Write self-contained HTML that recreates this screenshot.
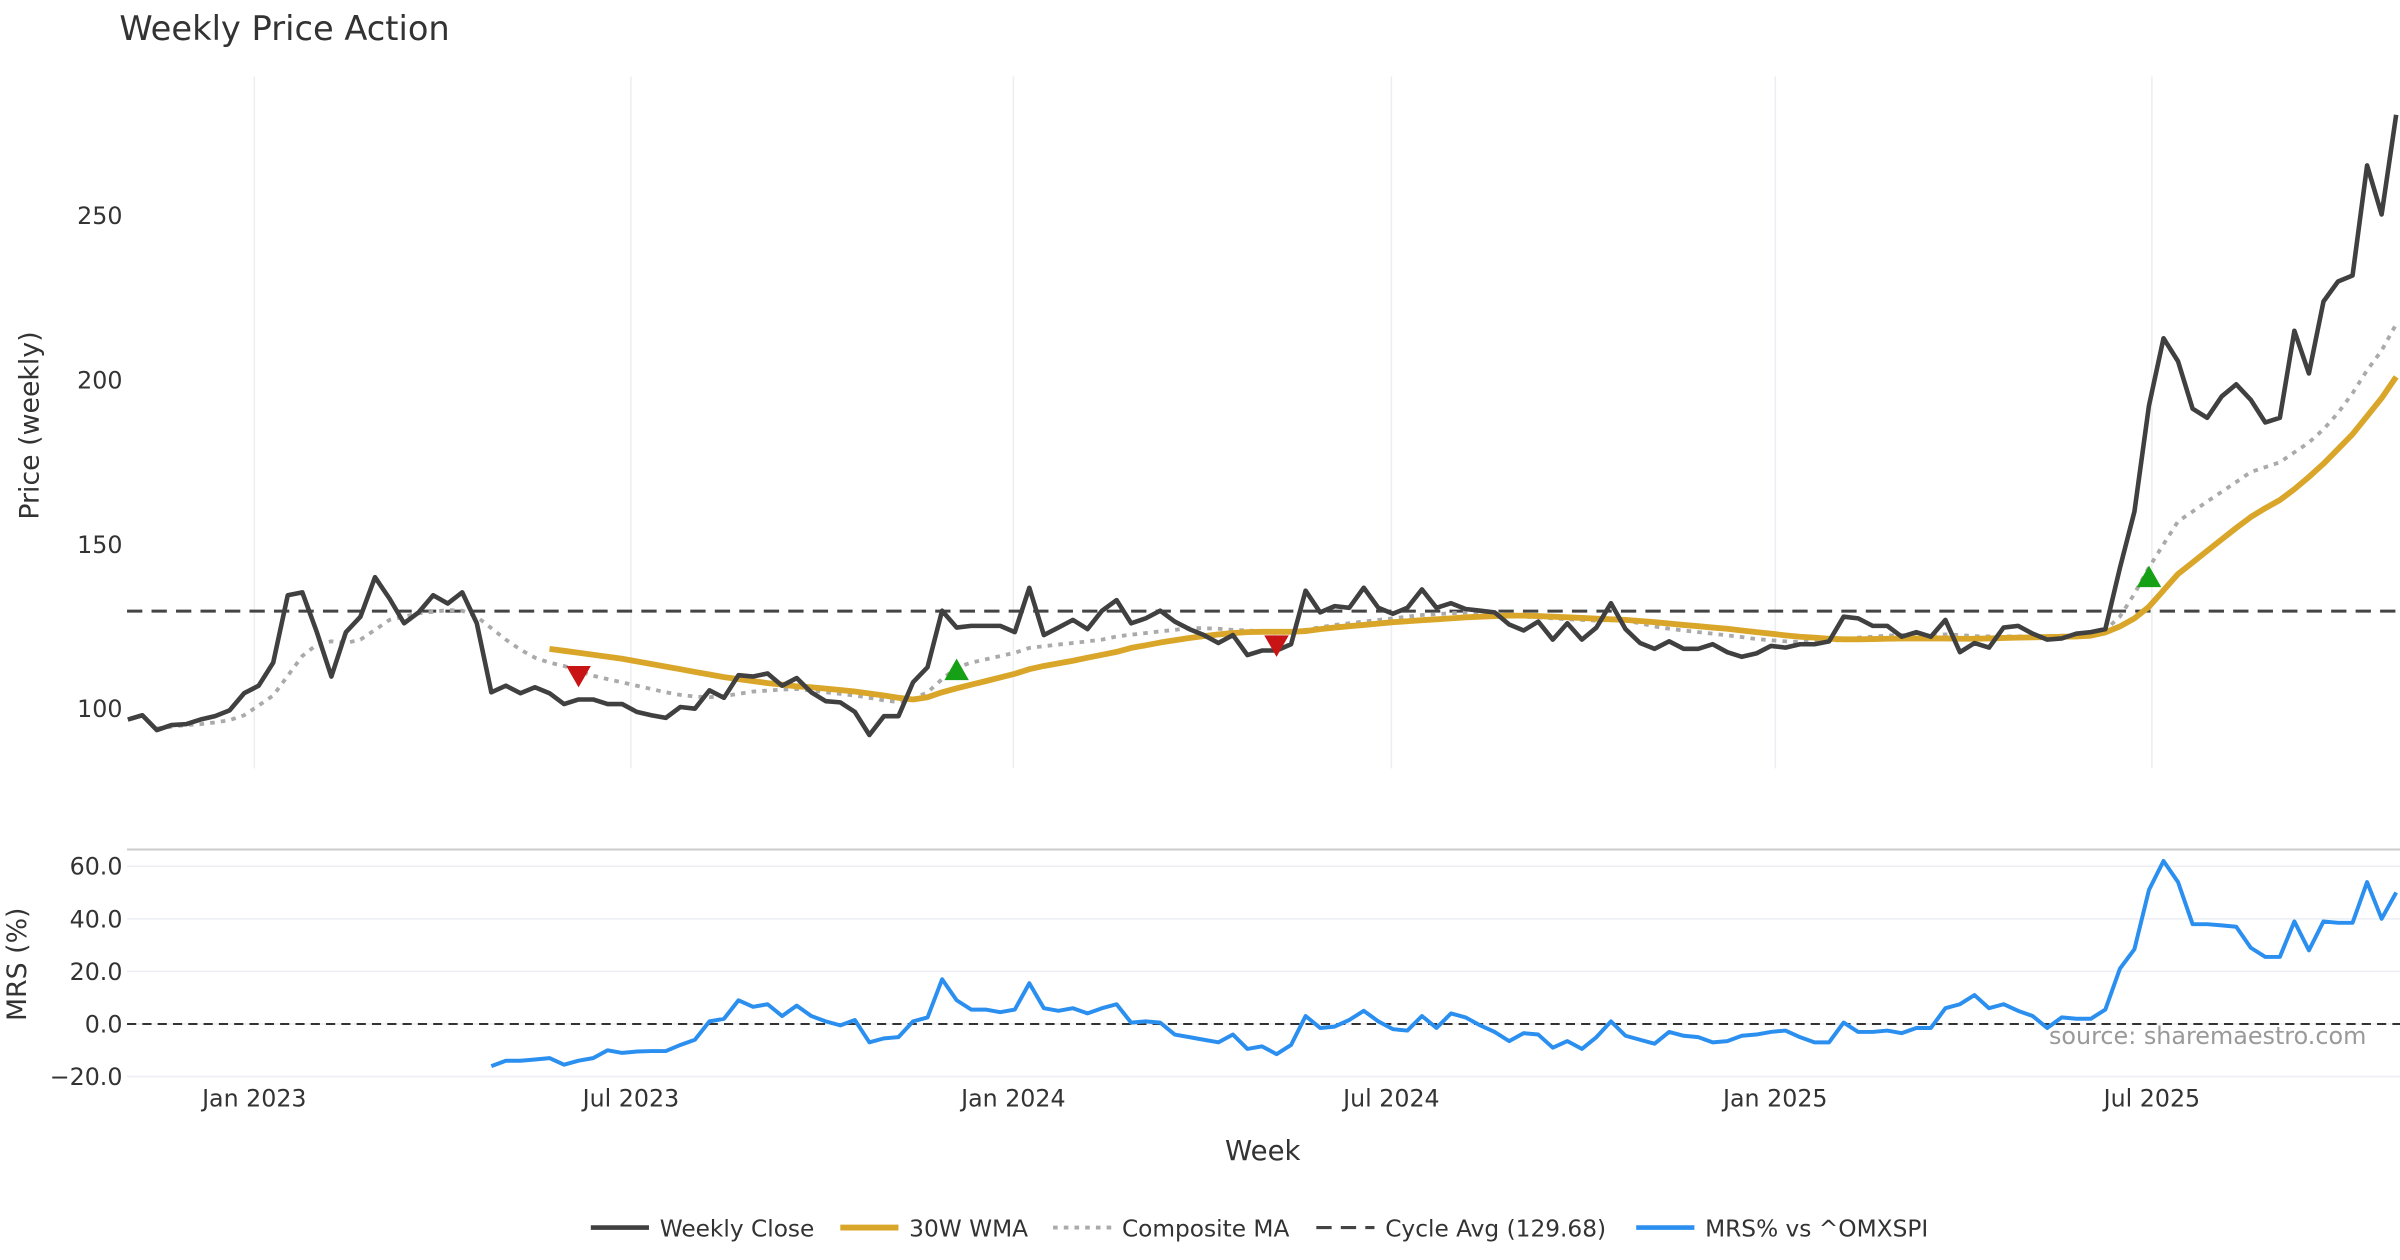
<!DOCTYPE html>
<html><head><meta charset="utf-8"><style>
html,body{margin:0;padding:0;background:#fff;}
svg{display:block;font-family:"DejaVu Sans","Liberation Sans",sans-serif;}
</style></head><body>
<svg id="chart" width="2400" height="1260" viewBox="0 0 1568 823.2" xmlns="http://www.w3.org/2000/svg">
<text x="78" y="26" font-size="22" fill="#333">Weekly Price Action</text>
<text transform="translate(25,278) rotate(-90)" text-anchor="middle" font-size="17.5" fill="#333">Price (weekly)</text>
<text transform="translate(17,630) rotate(-90)" text-anchor="middle" font-size="17.5" fill="#333">MRS (%)</text>
<text x="825" y="758" text-anchor="middle" font-size="18" fill="#333">Week</text>
<g id="grid"></g>
<g id="series"></g>
<g id="ticks"></g>
<text x="1546" y="682" text-anchor="end" font-size="15.6" fill="#999">source: sharemaestro.com</text>
<g id="legend"></g>
</svg>
<script>
const closeVals=[96.7,98,93.5,95,95.3,96.7,97.7,99.5,104.7,107,114,134.5,135.4,123.3,109.8,123.3,128,140,133.5,126,129.3,134.5,132,135.4,126,105,107,104.7,106.5,104.7,101.4,102.8,102.8,101.4,101.4,99,98,97.2,100.5,100,105.6,103.3,110.2,109.8,110.7,107,109.3,105,102.3,101.9,99,92,97.7,97.7,108,112.6,129.8,124.7,125.2,125.2,125.2,123.3,136.8,122.4,124.7,127,124.2,129.8,133,126,127.5,129.8,126.5,124.2,122.4,120,122.4,116.3,117.7,117.7,119.6,135.9,129.3,131.2,130.7,136.8,130.7,128.9,130.7,136.3,130.7,132.1,130.3,129.8,129.3,125.6,123.8,126.5,121,126,121,124.7,132.1,124.2,120,118.2,120.5,118.2,118.2,119.6,117.2,115.8,116.8,119.1,118.6,119.6,119.6,120.5,128,127.5,125.2,125.2,121.9,123.3,121.9,127,117.2,120,118.6,124.7,125.2,122.8,121,121.4,122.8,123.3,124.2,142.8,160,192.2,212.7,205.7,191.3,188.5,195,198.7,194,187.1,188.5,215,202,223.9,230,231.8,265.3,250.4,280.7];
const wmaStart=29;
const wmaVals=[118.2,117.6,117,116.4,115.8,115.2,114.4,113.6,112.8,112,111.2,110.4,109.6,109,108.4,107.8,107.3,106.8,106.5,106.1,105.7,105.2,104.6,104,103.3,102.8,103.5,105,106.2,107.3,108.4,109.5,110.6,112,113,113.8,114.6,115.5,116.4,117.3,118.5,119.3,120.1,120.8,121.5,122.1,122.6,123,123.3,123.4,123.4,123.4,123.6,124.2,124.7,125.1,125.5,125.9,126.3,126.6,126.9,127.2,127.5,127.8,128,128.2,128.3,128.3,128.2,128,127.8,127.6,127.4,127.2,127,126.7,126.3,125.9,125.5,125.1,124.7,124.3,123.8,123.3,122.8,122.3,121.9,121.6,121.3,121.1,121.1,121.2,121.3,121.4,121.4,121.4,121.4,121.3,121.3,121.4,121.5,121.6,121.7,121.8,121.9,122,122.2,123.2,125,127.5,131,136,141,144.5,148,151.5,155,158.3,161,163.5,166.8,170.5,174.5,179,183.5,189,194.5,201];
const compStart=2;
const compVals=[94,94.5,95,95.3,95.8,96.5,98,101,104,110,116,119.5,120.5,120,121,124,127,128,129,129.5,130,129.8,128,124.5,121,118,115.5,114,113,111.5,110,109,108,107,106,105,104.2,103.7,103.5,103.8,104.5,105.2,105.5,105.8,106,105.5,105,104.5,104,103.3,102.5,102,103,105,109,112.5,114,115,116,117,118.5,119,119.5,120,120.5,121,122,122.5,123,123.5,124,124.5,124.5,124.3,124,123.8,123.5,123,123.2,124,124.8,125.5,126,126.5,127,127.5,128,128.5,128.8,129,129.3,129.3,129,128.5,128,127.8,127.5,127.2,127,126.8,127,126.8,126,125,124.3,123.8,123.3,122.8,122.3,121.8,121.2,120.8,120.5,120.3,120.3,120.5,121,121.6,121.9,122.2,122.4,122.5,122.5,122.6,122.4,122.1,122,122,122,122,122.1,122.2,122.2,122.3,124,128,135,143,150,157,160,163,166,169,172,173.5,175,178,181,185,190,196,203,209,217];
const mrsStart=25;
const mrsVals=[-16,-14,-14,-13.5,-13,-15.5,-14,-13,-10,-11,-10.5,-10.3,-10.3,-8,-6,1,2,9,6.5,7.5,3,7,3,1,-0.5,1.5,-7,-5.5,-5,1,2.5,17,9,5.5,5.5,4.5,5.5,15.5,6,5,6,4,6,7.5,0.5,1,0.5,-4,-5,-6,-7,-4,-9.5,-8.5,-11.5,-8,3,-1.5,-1,1.5,5,1,-2,-2.5,3,-1.5,4,2.5,-0.5,-3,-6.5,-3.5,-4,-9,-6.5,-9.5,-5,1,-4.5,-6,-7.5,-3,-4.5,-5,-7,-6.5,-4.5,-4,-3,-2.5,-5,-7,-7,0.5,-3,-3,-2.5,-3.5,-1.5,-1.5,6,7.5,11,6,7.5,5,3,-1.5,2.5,2,2,5.5,21,28.5,51,62,54,38,38,37.5,37,29,25.5,25.5,39,28,39,38.5,38.5,54,40,50];
const cycleAvg=129.68;
const sigIdx=[31,57,79,139];
const sigVal=[110.2,111.5,119.5,139.8];
const sigType=['sell','buy','sell','buy'];
const priceTicks=[100,150,200,250];
const mrsTicks=[-20,0,20,40,60];
const mrsTickLabels=['\u221220.0','0.0','20.0','40.0','60.0'];
const dateIdx=[8.7,34.6,60.9,86.9,113.3,139.2];
const dateLabels=['Jan 2023','Jul 2023','Jan 2024','Jul 2024','Jan 2025','Jul 2025'];

const NS='http://www.w3.org/2000/svg';
const X=i=>83.5+i*9.5;
const YP=v=>463-(v-100)*2.147;
const YM=v=>669-v*1.717;
function mk(tag,attrs,parent){const e=document.createElementNS(NS,tag);for(const k in attrs)e.setAttribute(k,attrs[k]);parent.appendChild(e);return e;}
const grid=document.getElementById('grid'),ser=document.getElementById('series'),tk=document.getElementById('ticks'),lg=document.getElementById('legend');

dateIdx.forEach((d,k)=>{
  const l=mk('line',{x1:X(d),x2:X(d),y1:50,y2:502,stroke:'#eceef2','stroke-width':1},grid);
  
  
  const t=mk('text',{x:X(d),y:723,'text-anchor':'middle','font-size':15.5,fill:'#333'},tk);
  t.textContent=dateLabels[k];
  
  
});
priceTicks.forEach(v=>{
  const t=mk('text',{x:80,y:YP(v)+5.5,'text-anchor':'end','font-size':15.5,fill:'#333'},tk);
  t.textContent=String(v);
  
  
});
mrsTicks.forEach((v,k)=>{
  const l=mk('line',{x1:83,x2:1568,y1:YM(v),y2:YM(v),stroke:'#eceef2','stroke-width':1},grid);
  
  
  const t=mk('text',{x:80,y:YM(v)+5.5,'text-anchor':'end','font-size':15.5,fill:'#333'},tk);
  t.textContent=mrsTickLabels[k];
  
  
});
const sep=mk('line',{x1:83,x2:1568,y1:555,y2:555,stroke:'#ccc','stroke-width':1.3},grid);



function pts(vals,start,fy){return vals.map((v,k)=>X(start+k).toFixed(1)+','+fy(v).toFixed(1)).join(' ');}
const cyc=mk('line',{x1:83,x2:1568,y1:YP(cycleAvg),y2:YP(cycleAvg),stroke:'#444','stroke-width':2,'stroke-dasharray':'10 6'},ser);


const zl=mk('line',{x1:83,x2:1568,y1:YM(0),y2:YM(0),stroke:'#333','stroke-width':1.3,'stroke-dasharray':'6 4'},ser);


const comp=mk('polyline',{points:pts(compVals,compStart,YP),fill:'none',stroke:'#aaa','stroke-width':2.5,'stroke-dasharray':'3 4'},ser);


const wma=mk('polyline',{points:pts(wmaVals,wmaStart,YP),fill:'none',stroke:'#d9a62a','stroke-width':3.8,'stroke-linejoin':'round'},ser);


const cl=mk('polyline',{points:pts(closeVals,0,YP),fill:'none',stroke:'#404040','stroke-width':3,'stroke-linejoin':'round'},ser);


const mrs=mk('polyline',{points:pts(mrsVals,mrsStart,YM),fill:'none',stroke:'#2b8ff0','stroke-width':2.6,'stroke-linejoin':'round'},ser);


sigIdx.forEach((i,k)=>{
  const x=X(i),y=YP(sigVal[k]);
  const p=sigType[k]==='buy'?`${x-8},${y+6} ${x+8},${y+6} ${x},${y-8}`:`${x-8},${y-6} ${x+8},${y-6} ${x},${y+8}`;
  const m=mk('polygon',{points:p,fill:sigType[k]==='buy'?'#16a016':'#c81414'},ser);
  
  
});

const legItems=[
 {x:386,label:'Weekly Close',stroke:'#404040',w:3,dash:''},
 {x:549,label:'30W WMA',stroke:'#d9a62a',w:3.8,dash:''},
 {x:688,label:'Composite MA',stroke:'#aaa',w:2.5,dash:'3 4'},
 {x:860,label:'Cycle Avg (129.68)',stroke:'#444',w:2,dash:'10 6'},
 {x:1069,label:'MRS% vs ^OMXSPI',stroke:'#2b8ff0',w:3,dash:''}];
legItems.forEach(it=>{
  const g=mk('g',{},lg);
  
  
  const a={x1:it.x,x2:it.x+38,y1:802,y2:802,stroke:it.stroke,'stroke-width':it.w};
  if(it.dash)a['stroke-dasharray']=it.dash;
  mk('line',a,g);
  const t=mk('text',{x:it.x+45,y:808,'font-size':15.2,fill:'#333'},g);
  t.textContent=it.label;
});
</script>
</body></html>
